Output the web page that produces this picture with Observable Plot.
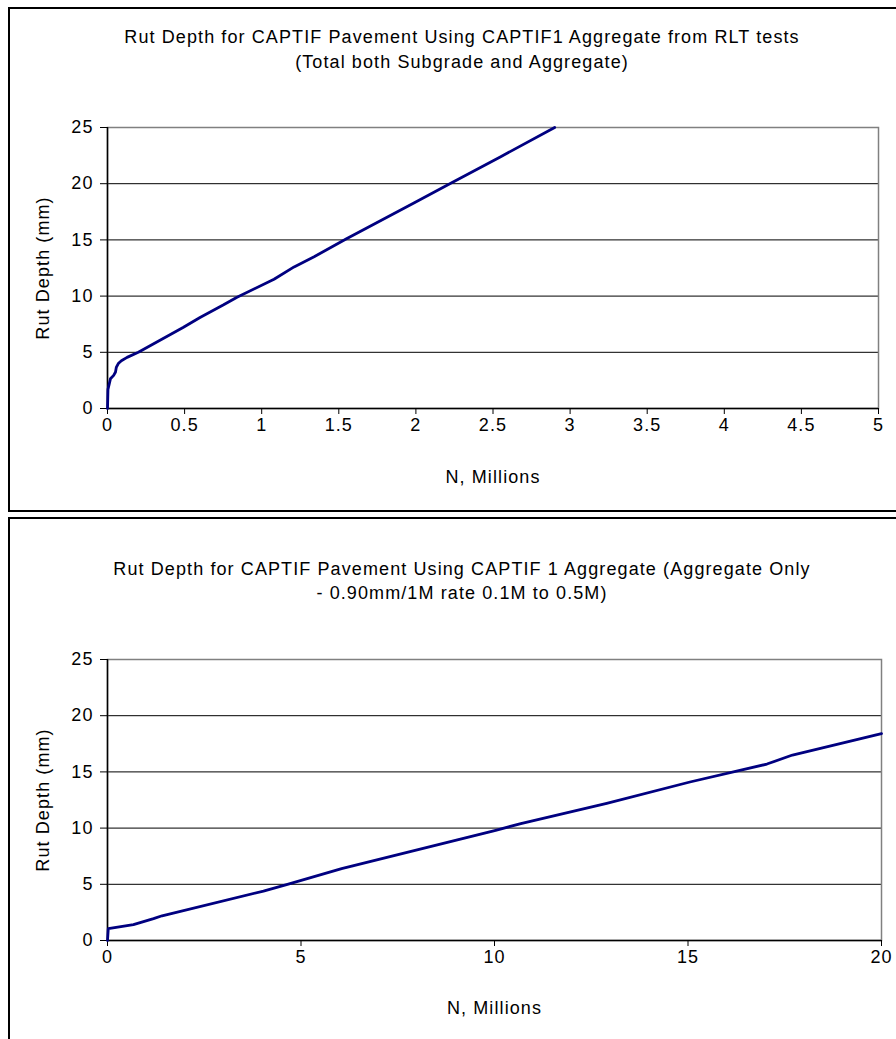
<!DOCTYPE html>
<html>
<head>
<meta charset="utf-8">
<script src="https://cdn.jsdelivr.net/npm/d3@7"></script>
<script src="https://cdn.jsdelivr.net/npm/@observablehq/plot@0.6"></script>
<style>
  html, body { margin: 0; padding: 0; background: #fff; }
  body { width: 896px; height: 1039px; overflow: hidden; position: relative;
         font-family: "Liberation Sans", Arial, sans-serif; color: #000; }
  .box { position: absolute; left: 8px; width: 1000px; border: 2px solid #000; box-sizing: border-box; }
  .title { position: absolute; left: 0; width: 924px; text-align: center; font-size: 18px;
           letter-spacing: 1.1px; line-height: 24px; white-space: nowrap; }
  .chart { position: absolute; left: 0; }
</style>
</head>
<body>
<div class="box" style="top:7px;height:505px;"></div>
<div class="box" style="top:517px;height:600px;"></div>
<div class="title" style="top:25px;">Rut Depth for CAPTIF Pavement Using CAPTIF1 Aggregate from RLT tests</div>
<div class="title" style="top:50px;">(Total both Subgrade and Aggregate)</div>
<div class="title" style="top:557px;">Rut Depth for CAPTIF Pavement Using CAPTIF 1 Aggregate (Aggregate Only</div>
<div class="title" style="top:581px;">- 0.90mm/1M rate 0.1M to 0.5M)</div>
<div id="c1" class="chart" style="top:0px;"></div>
<div id="c2" class="chart" style="top:517px;"></div>
<script>
// ---- Data: chart 1 (total, subgrade + aggregate) ----
const n1   = [0, 0.003, 0.019, 0.04, 0.052, 0.057, 0.07, 0.09, 0.127, 0.2, 0.49, 0.6, 0.75, 0.84, 1.08, 1.21, 1.34, 1.55, 1.99, 2.22, 2.55, 2.9];
const rut1 = [0, 1.7,   2.64,  2.95, 3.25,  3.65,  4.0,  4.25, 4.55,  5.0, 7.2,  8.1, 9.2,  9.9,  11.5, 12.6, 13.5, 15.1, 18.3, 20.0, 22.4, 25];
// ---- Data: chart 2 (aggregate only) ----
const n2   = [0, 0.02, 0.67, 1.19, 1.41, 4.03, 4.65, 6.05, 10.03, 10.68, 12.9, 15.05, 17.04, 17.7, 20];
const rut2 = [0, 1.05, 1.42, 1.95, 2.2,  4.4,  5.0,  6.4,  9.8,   10.4,  12.2, 14.1,  15.7,  16.5, 18.4];
// ---- Ticks ----
const xTicks1 = [0, 0.5, 1, 1.5, 2, 2.5, 3, 3.5, 4, 4.5, 5];
const xTicks2 = [0, 5, 10, 15, 20];
const yTicks  = [0, 5, 10, 15, 20, 25];
const xLabel = "N, Millions";
const yLabel = "Rut Depth (mm)";

const data1 = n1.map((n, i) => ({n, rut: rut1[i]}));
const data2 = n2.map((n, i) => ({n, rut: rut2[i]}));

const font = {fontFamily: "Liberation Sans, Arial, sans-serif", fontSize: "18px", letterSpacing: "1.1px", color: "#000", background: "transparent", overflow: "visible"};

function chart(data, xDomain, xTicks, opts) {
  return Plot.plot({
    width: 896,
    height: opts.height,
    marginLeft: 107,
    marginRight: opts.marginRight,
    marginTop: opts.marginTop,
    marginBottom: opts.marginBottom,
    style: font,
    x: {domain: xDomain},
    y: {domain: [0, 25]},
    marks: [
      Plot.gridY(yTicks.filter(d => d > 0 && d < 25), {stroke: "#000", strokeOpacity: 1, strokeWidth: 1}),
      Plot.frame({stroke: "#808080", strokeWidth: 1.5}),
      Plot.ruleX([xDomain[0]], {stroke: "#000", strokeWidth: 1.5}),
      Plot.ruleY([0], {stroke: "#000", strokeWidth: 1.5}),
      Plot.axisY(yTicks, {tickSize: 7, tickPadding: 7, label: null, stroke: "#000", strokeOpacity: 1, fill: "#000", fontSize: 18}),
      Plot.axisX(xTicks, {tickSize: 6, tickPadding: 4, label: null, stroke: "#000", strokeOpacity: 1, fill: "#000", fontSize: 18, tickFormat: d => String(d)}),
      Plot.line(data, {x: "n", y: "rut", stroke: "#000080", strokeWidth: 2.8, curve: "linear", strokeLinejoin: "round"}),
      Plot.text([xLabel], {frameAnchor: "bottom", dy: opts.xLabelDy, lineAnchor: "middle", textAnchor: "middle", text: d => d, fontSize: 18, fill: "#000"}),
      Plot.text([yLabel], {frameAnchor: "left", dx: -64, rotate: -90, lineAnchor: "middle", textAnchor: "middle", text: d => d, fontSize: 18, fill: "#000"})
    ]
  });
}

document.getElementById("c1").appendChild(
  chart(data1, [0, 5], xTicks1, {height: 512, marginRight: 18, marginTop: 127, marginBottom: 104, xLabelDy: 69})
);
document.getElementById("c2").appendChild(
  chart(data2, [0, 20], xTicks2, {height: 522, marginRight: 15, marginTop: 142, marginBottom: 99, xLabelDy: 68})
);
</script>
</body>
</html>
